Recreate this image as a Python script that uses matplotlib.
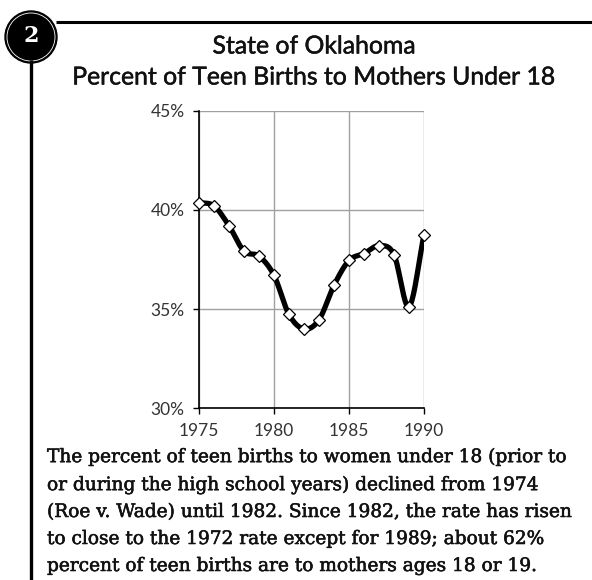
import numpy as np
import matplotlib
matplotlib.use("Agg")
import matplotlib.pyplot as plt
import matplotlib.patheffects as pe
from matplotlib.patches import Circle
from matplotlib.ticker import FuncFormatter

# ---------------- data ----------------
years = [1975, 1976, 1977, 1978, 1979, 1980, 1981, 1982,
         1983, 1984, 1985, 1986, 1987, 1988, 1989, 1990]
pct_under18 = [40.37, 40.20, 39.20, 37.92, 37.67, 36.70, 34.73, 34.00,
               34.46, 36.20, 37.45, 37.80, 38.20, 37.75, 35.13, 38.75]
x_ticks = [1975, 1980, 1985, 1990]
y_ticks = [30, 35, 40, 45]
badge_label = "2"
title_lines = ["State of Oklahoma", "Percent of Teen Births to Mothers Under 18"]
caption_lines = [
    "The percent of teen births to women under 18 (prior to",
    "or during the high school years) declined from 1974",
    "(Roe v. Wade) until 1982. Since 1982, the rate has risen",
    "to close to the 1972 rate except for 1989; about 62%",
    "percent of teen births are to mothers ages 18 or 19.",
]

W, H = 592, 580
fig = plt.figure(figsize=(W / 100, H / 100), dpi=100)

# overlay in pixel coordinates
ov = fig.add_axes([0, 0, 1, 1], zorder=0)
ov.set_xlim(0, W)
ov.set_ylim(H, 0)
ov.axis("off")

renderer = fig.canvas.get_renderer()


def fit_text(t, target_w):
    bb = t.get_window_extent(renderer=renderer)
    t.set_fontsize(t.get_fontsize() * target_w / bb.width)


# frame lines
ov.plot([56, W], [22, 22], color="black", lw=2.2, solid_capstyle="butt")
ov.plot([31, 31], [60, H], color="black", lw=2.4, solid_capstyle="butt")
# badge
ov.add_patch(Circle((31, 37), 26, facecolor="black", edgecolor="black", lw=1))
ov.add_patch(Circle((31, 37), 24, facecolor="none", edgecolor="white", lw=0.6))
ov.text(31, 36, badge_label, color="white", fontsize=16, fontweight="bold",
        family="DejaVu Serif", ha="center", va="center")

# title
t_eff = [pe.withStroke(linewidth=0.35, foreground="#111111")]
t1 = ov.text(314, 46, title_lines[0], ha="center", va="center",
             family="Lato", fontsize=15, color="#111111", path_effects=t_eff)
t2 = ov.text(314, 77, title_lines[1], ha="center", va="center",
             family="Lato", fontsize=15, color="#111111", path_effects=t_eff)
fit_text(t2, 484)
t1.set_fontsize(t2.get_fontsize())

# caption
cap_y = [457, 485, 512, 539, 566]
caps = []
for yy, line in zip(cap_y, caption_lines):
    c = ov.text(47, yy, line, ha="left", va="center", family="DejaVu Serif",
                fontsize=12, color="#111111",
                path_effects=[pe.withStroke(linewidth=0.4, foreground="#111111")])
    caps.append(c)
fit_text(caps[0], 518)
for c in caps[1:]:
    c.set_fontsize(caps[0].get_fontsize())

# ---------------- chart ----------------
ax = fig.add_axes([199 / W, 1 - 408.3 / H, 225 / W, 297.6 / H], zorder=1)
ax.patch.set_alpha(0)


def catmull_rom(x, y, n=20):
    x = np.asarray(x, float)
    y = np.asarray(y, float)
    px = np.concatenate([[2 * x[0] - x[1]], x, [2 * x[-1] - x[-2]]])
    py = np.concatenate([[2 * y[0] - y[1]], y, [2 * y[-1] - y[-2]]])
    xs, ys = [], []
    t = np.linspace(0, 1, n, endpoint=False)
    for i in range(1, len(px) - 2):
        p0, p1, p2, p3 = px[i - 1], px[i], px[i + 1], px[i + 2]
        q0, q1, q2, q3 = py[i - 1], py[i], py[i + 1], py[i + 2]
        b1x, b1y = p1 + (p2 - p0) / 6, q1 + (q2 - q0) / 6
        b2x, b2y = p2 - (p3 - p1) / 6, q2 - (q3 - q1) / 6
        xs.append((1 - t) ** 3 * p1 + 3 * (1 - t) ** 2 * t * b1x + 3 * (1 - t) * t ** 2 * b2x + t ** 3 * p2)
        ys.append((1 - t) ** 3 * q1 + 3 * (1 - t) ** 2 * t * b1y + 3 * (1 - t) * t ** 2 * b2y + t ** 3 * q2)
    xs.append([x[-1]])
    ys.append([y[-1]])
    return np.concatenate(xs), np.concatenate(ys)


sx, sy = catmull_rom(years, pct_under18)
ax.plot(sx, sy, color="black", lw=3.8, solid_capstyle="round",
        solid_joinstyle="round", zorder=3)
ax.plot(years, pct_under18, linestyle="none", marker="D", markersize=6.2,
        markerfacecolor="white", markeredgecolor="black", markeredgewidth=0.9,
        zorder=4, clip_on=False)

ax.set_xlim(1975, 1990)
ax.set_ylim(30, 45)
ax.set_xticks(x_ticks)
ax.set_yticks(y_ticks)
ax.yaxis.set_major_formatter(FuncFormatter(lambda v, p: f"{v:.0f}%"))
ax.grid(True, color="#a0a0a0", lw=1.0, zorder=1)
ax.set_axisbelow(True)
for s in ["top", "right"]:
    ax.spines[s].set_visible(False)
for s in ["left", "bottom"]:
    ax.spines[s].set_color("black")
    ax.spines[s].set_linewidth(1.2)
ax.tick_params(axis="both", direction="out", length=4.5, width=1.0, color="black",
               labelsize=12.5, labelcolor="#333333")
ax.tick_params(axis="y", pad=6)
ax.tick_params(axis="x", pad=6)
for lab in ax.get_xticklabels() + ax.get_yticklabels():
    lab.set_family("Lato")

fig.savefig("out.png", dpi=100)
